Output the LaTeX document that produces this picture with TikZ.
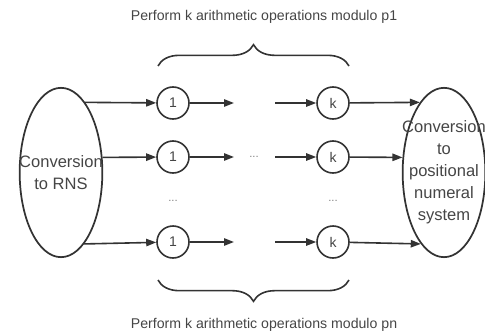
\documentclass[tikz,border=0pt]{standalone}
\usepackage{fontspec}
\setmainfont{Liberation Sans}
\usetikzlibrary{arrows.meta,shapes.geometric,decorations.pathreplacing,calc}

\definecolor{linegray}{HTML}{333333}
\definecolor{textgray}{HTML}{454545}
\definecolor{dotgray}{HTML}{808080}

\tikzset{
  conv/.style={ellipse, draw=linegray, line width=1.3pt, minimum width=62pt, minimum height=127pt, inner sep=0pt},
  convtext/.style={align=center, text=textgray, font=\fontsize{12.4}{16.5}\selectfont},
  op/.style={circle, draw=linegray, line width=1.2pt, minimum size=24pt, inner sep=0pt, text=textgray, font=\fontsize{10.5}{12}\selectfont},
  flow/.style={draw=linegray, line width=1.2pt, -{Triangle[length=7.5pt,width=5.5pt]}},
  dotstext/.style={text=dotgray, font=\fontsize{8.5}{10}\selectfont},
  caption/.style={text=textgray, font=\fontsize{10.6}{13}\selectfont},
  modbrace/.style={draw=linegray, line width=1.2pt, decorate, decoration={brace, amplitude=16pt}}
}

\begin{document}
\begin{tikzpicture}[x=0.75pt, y=-0.75pt]
            \useasboundingbox (0,0) rectangle (485,332);
            % conversions
            \node[conv] (Conv0) at (61,172.5) {};
            \node[convtext] (Conv0Text) at (Conv0) {Conversion\\to RNS};
            \node[conv] (Conv1) at (444,172.5) {};
            \node[convtext] (Conv1Text) at (Conv1) {Conversion\\to\\positional\\numeral\\system};
            % operations
            \node[op] (One1) at (173,103) {1};
            \node[op] (One2) at (173,157) {1};
            \node[op] (OneN) at (173,242) {1};
            \node[op] (K1) at (333,103) {k};
            \node[op] (K2) at (333,157) {k};
            \node[op] (KN) at (333,242) {k};
            \node[dotstext] (Dots2) at (254,157) {...};
            \node[dotstext] (DotsOne) at (173,201) {...};
            \node[dotstext] (DotsK) at (333,201) {...};
            \coordinate (Gap1L) at (234,103);
            \coordinate (Gap1R) at (275,103);
            \coordinate (Gap2L) at (234,157);
            \coordinate (Gap2R) at (275,157);
            \coordinate (GapNL) at (234,242);
            \coordinate (GapNR) at (275,242);
            \draw[flow] (Conv0.71) -- (One1);
            \draw[flow] (Conv0.20) -- (One2);
            \draw[flow] (Conv0.-72) -- (OneN);
            \draw[flow] (One1) -- (Gap1L);
            \draw[flow] (One2) -- (Gap2L);
            \draw[flow] (OneN) -- (GapNL);
            \draw[flow] (Gap1R) -- (K1);
            \draw[flow] (Gap2R) -- (K2);
            \draw[flow] (GapNR) -- (KN);
            \draw[flow] (K1) -- (Conv1.109);
            \draw[flow] (K2) -- (Conv1.160);
            \draw[flow] (KN) -- (Conv1.-108);
            % braces
            \coordinate (TopL) at (158,66);
            \coordinate (TopR) at (349,66);
            \coordinate (BotL) at (158,280);
            \coordinate (BotR) at (349,280);
            \draw[modbrace] (TopL) -- (TopR);
            \draw[modbrace] (BotR) -- (BotL);
            \node[caption] (TopText) at (264,17) {Perform k arithmetic operations modulo p1};
            \node[caption] (BotText) at (264,325) {Perform k arithmetic operations modulo pn};
        \end{tikzpicture}
\end{document}
